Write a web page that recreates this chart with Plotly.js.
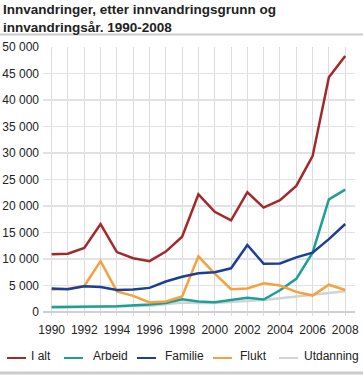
<!DOCTYPE html>
<html>
<head>
<meta charset="utf-8">
<script src="https://cdn.plot.ly/plotly-3.0.1.min.js"></script>
<style>
html,body{margin:0;padding:0;background:#fff;}
#chart{width:363px;height:376px;}
</style>
</head>
<body>
<div id="chart"></div>
<script>
const years = [1990,1991,1992,1993,1994,1995,1996,1997,1998,1999,2000,2001,2002,2003,2004,2005,2006,2007,2008];
const iAlt      = [10900,11000,12100,16600,11300,10150,9600,11400,14200,22200,18900,17300,22600,19700,21100,23800,29400,44300,48300];
const arbeid    = [950,950,1000,1050,1100,1250,1400,1700,2400,2000,1850,2250,2700,2350,4100,6250,11200,21250,23100];
const familie   = [4450,4300,4850,4700,4150,4250,4550,5750,6650,7300,7500,8250,12650,9100,9150,10300,11200,13750,16600];
const flukt     = [4250,4400,4900,9600,3900,3050,1800,2000,2950,10500,7250,4300,4450,5400,5000,3800,3100,5150,4150];
const utdanning = [800,850,900,950,1000,1100,1200,1450,1800,1700,1700,1900,2050,2250,2600,2900,3200,3600,3900];
const xTickVals = [1990,1992,1994,1996,1998,2000,2002,2004,2006,2008];
const yTickVals = [0,5000,10000,15000,20000,25000,30000,35000,40000,45000,50000];
const seriesNames = ['I alt','Arbeid','Familie','Flukt','Utdanning'];
const seriesColors = ['#a3282a','#1d9f98','#1c3f93','#f6a03e','#d3d3d3'];

const FONT = 'Liberation Sans, Arial, sans-serif';
const mk = (y, i) => ({
  x: years, y: y, name: seriesNames[i], type: 'scatter', mode: 'lines',
  line: {color: seriesColors[i], width: 2.5}, hoverinfo: 'skip', showlegend: false
});
const data = [
  mk(utdanning, 4),
  mk(arbeid, 1),
  mk(flukt, 3),
  mk(familie, 2),
  mk(iAlt, 0)
];

const W = 363, H = 376, L = 43, R = 8, T = 47, B = 64;
const pw = W - L - R, ph = H - T - B;
const px = p => (p - L) / pw;
const py = p => (H - B - p) / ph;

// legend layout (pixel positions of sample start / text start)
const legSampleX = [7, 64, 137, 213, 279];
const legTextX = [29, 91, 163, 238, 302];
const legSampleW = 19, legLineY = 358, legTextY = 356;

const shapes = [
  {type: 'line', xref: 'paper', yref: 'paper', x0: px(0), x1: px(W), y0: py(34.5), y1: py(34.5),
   line: {color: '#cccccc', width: 2}},
  {type: 'line', xref: 'paper', yref: 'paper', x0: px(0), x1: px(W), y0: py(373), y1: py(373),
   line: {color: '#cccccc', width: 3}}
];
const annotations = [
  {text: '<b>Innvandringer, etter innvandringsgrunn og<br>innvandringsår. 1990-2008</b>',
   xref: 'paper', yref: 'paper', x: px(1), y: py(0), xanchor: 'left', yanchor: 'top',
   align: 'left', showarrow: false, font: {family: FONT, size: 13.5, color: '#222'}}
];
seriesNames.forEach((n, i) => {
  shapes.push({type: 'line', xref: 'paper', yref: 'paper',
    x0: px(legSampleX[i]), x1: px(legSampleX[i] + legSampleW), y0: py(legLineY), y1: py(legLineY),
    line: {color: seriesColors[i], width: 2}});
  annotations.push({text: n, xref: 'paper', yref: 'paper', x: px(legTextX[i]), y: py(legTextY),
    xanchor: 'left', yanchor: 'middle', showarrow: false,
    font: {family: FONT, size: 12, color: '#222'}});
});

const layout = {
  width: W, height: H,
  margin: {l: L, r: R, t: T, b: B, pad: 0},
  paper_bgcolor: '#fff', plot_bgcolor: '#fff',
  separators: ', ',
  font: {family: FONT, size: 12, color: '#222'},
  showlegend: false,
  xaxis: {
    range: [1989.47, 2008.6], tickvals: xTickVals, ticktext: xTickVals.map(String),
    showgrid: true, gridcolor: '#dcdce0', gridwidth: 1,
    minor: {dtick: 1, tick0: 1990, showgrid: true, gridcolor: '#dcdce0', gridwidth: 1,
            ticks: 'outside', ticklen: 3, tickcolor: '#dcdce0'},
    ticks: 'outside', ticklen: 3, tickcolor: '#dcdce0', ticklabelstandoff: 4,
    zeroline: false, showline: false, automargin: false,
    tickfont: {family: FONT, size: 12, color: '#222'}, fixedrange: true
  },
  yaxis: {
    range: [0, 50000], tickvals: yTickVals, tickformat: ',d',
    showgrid: true, gridcolor: '#e2e2e6', gridwidth: 1.2,
    zeroline: true, zerolinecolor: '#d0d0d4', zerolinewidth: 1.5,
    showline: false, ticks: '', ticklabelstandoff: 3, automargin: false,
    tickfont: {family: FONT, size: 12, color: '#222'}, fixedrange: true
  },
  shapes: shapes,
  annotations: annotations
};

Plotly.newPlot('chart', data, layout, {displayModeBar: false, staticPlot: true});
</script>
</body>
</html>
